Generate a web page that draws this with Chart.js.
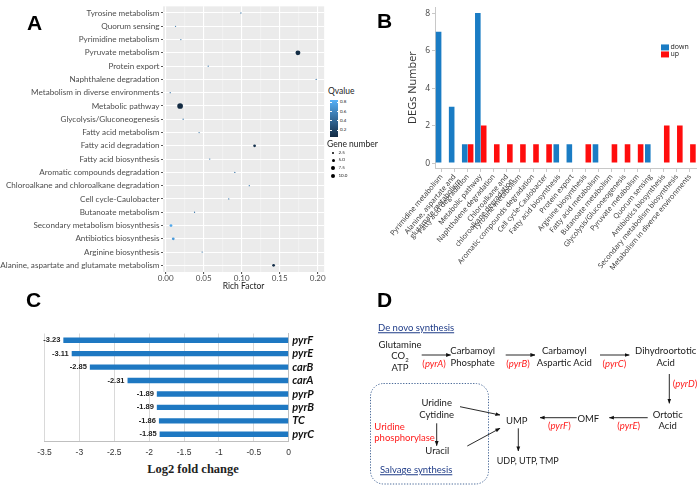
<!DOCTYPE html>
<html><head><meta charset="utf-8">
<script src="https://cdn.jsdelivr.net/npm/chart.js@4.4.0/dist/chart.umd.min.js"></script>
<style>
html,body{margin:0;padding:0;background:#fff;width:699px;height:489px;overflow:hidden;position:relative;font-family:Lato,sans-serif;}
canvas{position:absolute;}
.t{position:absolute;white-space:nowrap;transform:translate(-50%,-50%);line-height:1;color:#1a1a1a;font-size:9.5px;}
.l{position:absolute;white-space:nowrap;transform:translate(0,-50%);line-height:1;color:#1a1a1a;font-size:9.5px;}
.red{color:#FF1A1A;}
.hd{color:#1F3C88;text-decoration:underline;}
.panel{position:absolute;font-family:"Liberation Sans",Arial,sans-serif;font-weight:bold;font-size:21px;line-height:21px;color:#000;}
.leg{position:absolute;white-space:nowrap;transform:translate(0,-50%);line-height:1;color:#222;}
</style></head><body>
<canvas id="cA" width="327" height="296" style="left:0;top:0;width:327px;height:296px"></canvas>
<canvas id="cB" width="339" height="290" style="left:360px;top:0;width:339px;height:290px"></canvas>
<canvas id="cC" width="340" height="141" style="left:0;top:320px;width:340px;height:141px"></canvas>
<div id="legA"></div>
<div class="panel" style="left:27px;top:12px">A</div>
<div class="panel" style="left:377px;top:10px">B</div>
<div class="panel" style="left:26px;top:289px">C</div>
<div class="panel" style="left:377px;top:289px">D</div>

<div class="leg" style="left:661px;top:47px;font-family:'Open Sans';font-size:7px"><span style="display:inline-block;width:7.5px;height:6px;background:#1A7CC4;vertical-align:middle;margin-right:2px"></span>down</div>
<div class="leg" style="left:661px;top:54px;font-family:'Open Sans';font-size:7px"><span style="display:inline-block;width:7.5px;height:6px;background:#FF0D0D;vertical-align:middle;margin-right:2px"></span>up</div>

<div class="t" style="left:193px;top:469px;font-family:'Liberation Serif',serif;font-weight:bold;font-size:12.5px;color:#222">Log2 fold change</div>

<!-- Panel D -->
<svg width="699" height="489" style="position:absolute;left:0;top:0">
<defs><marker id="ah" markerWidth="5" markerHeight="5" refX="4.6" refY="2.5" orient="auto" markerUnits="userSpaceOnUse"><path d="M0,0.6 L5,2.5 L0,4.4 z" fill="#111"/></marker></defs>
<g stroke="#111" stroke-width="0.9" marker-end="url(#ah)">
<line x1="421.7" y1="355" x2="450.7" y2="355"/>
<line x1="505.7" y1="355" x2="535" y2="355"/>
<line x1="600" y1="355" x2="629.3" y2="355"/>
<line x1="669.3" y1="374" x2="669.3" y2="403.3"/>
<line x1="647.7" y1="417.7" x2="609.3" y2="417.7"/>
<line x1="576.7" y1="417.7" x2="540" y2="417.7"/>
<line x1="518.3" y1="428.3" x2="518.3" y2="451"/>
<line x1="460" y1="406.7" x2="500" y2="415"/>
<line x1="467.3" y1="446" x2="500" y2="428.3"/>
<line x1="436.7" y1="423.3" x2="436.7" y2="445.7"/>
</g>
<rect x="370.5" y="383.5" width="118" height="100.5" rx="13" ry="13" fill="none" stroke="#4A6A99" stroke-width="1" stroke-dasharray="1.3 1.5"/>
</svg>
<div class="l hd" style="left:378px;top:328px">De novo synthesis</div>
<div class="t" style="left:400px;top:345px">Glutamine</div>
<div class="t" style="left:400px;top:357px">CO<sub style="font-size:6px">2</sub></div>
<div class="t" style="left:400px;top:368px">ATP</div>
<div class="t red" style="left:434px;top:364px">(<i>pyrA</i>)</div>
<div class="t" style="left:472.7px;top:351.3px">Carbamoyl</div>
<div class="t" style="left:472.7px;top:362.7px">Phosphate</div>
<div class="t red" style="left:518px;top:364px">(<i>pyrB</i>)</div>
<div class="t" style="left:564.3px;top:351.3px">Carbamoyl</div>
<div class="t" style="left:564.3px;top:362.7px">Aspartic Acid</div>
<div class="t red" style="left:614.3px;top:364px">(<i>pyrC</i>)</div>
<div class="t" style="left:665.7px;top:351.3px">Dihydroortotic</div>
<div class="t" style="left:665.7px;top:362.7px">Acid</div>
<div class="t red" style="left:685px;top:384.3px">(<i>pyrD</i>)</div>
<div class="t" style="left:667.7px;top:414.7px">Ortotic</div>
<div class="t" style="left:667.7px;top:425.7px">Acid</div>
<div class="t red" style="left:628.7px;top:426px">(<i>pyrE</i>)</div>
<div class="t" style="left:588.3px;top:419px">OMF</div>
<div class="t red" style="left:559.3px;top:426px">(<i>pyrF</i>)</div>
<div class="t" style="left:516.7px;top:421px">UMP</div>
<div class="t" style="left:527.7px;top:460px;font-size:9px">UDP, UTP, TMP</div>
<div class="t" style="left:436.7px;top:402.7px">Uridine</div>
<div class="t" style="left:436.7px;top:414.7px">Cytidine</div>
<div class="l red" style="left:374.3px;top:426.7px">Uridine</div>
<div class="l red" style="left:374.3px;top:438.3px">phosphorylase</div>
<div class="t" style="left:437.3px;top:451px">Uracil</div>
<div class="l hd" style="left:380px;top:470px">Salvage synthesis</div>

<script>
// ---------- Panel A data ----------
const pathwaysA = ['Tyrosine metabolism','Quorum sensing','Pyrimidine metabolism','Pyruvate metabolism','Protein export','Naphthalene degradation','Metabolism in diverse environments','Metabolic pathway','Glycolysis/Gluconeogenesis','Fatty acid metabolism','Fatty acid degradation','Fatty acid biosynthesis','Aromatic compounds degradation','Chloroalkane and chloroalkane degradation','Cell cycle-Caulobacter','Butanoate metabolism','Secondary metabolism biosynthesis','Antibiotics biosynthesis','Arginine biosynthesis','Alanine, aspartate and glutamate metabolism'];
const richFactor = [0.099,0.013,0.020,0.174,0.056,0.198,0.006,0.019,0.023,0.044,0.117,0.058,0.091,0.110,0.083,0.038,0.007,0.010,0.048,0.142];
const geneNumber = [1,1,1,7,1,1,1,10,1,1,2,1,1,1,1,1,2,2,1,2];
const qValue = [0.5,0.5,0.5,0.06,0.5,0.5,0.5,0.05,0.5,0.5,0.1,0.5,0.5,0.5,0.5,0.5,0.8,0.72,0.5,0.08];
const richTicks = [0,0.05,0.1,0.15,0.2];
const qTicks = [0.2,0.4,0.6,0.8];
const sizeBreaks = [2.5,5,7.5,10];

// ---------- Panel B data ----------
const pathwaysB = ['Pyrimidine metabolism','Alanine, aspartate and glutamate metabolism','Fatty acid degradation','Metabolic pathway','Naphthalene degradation','Chloroalkane and chloroalkane degradation','Tyrosine metabolism','Aromatic compounds degradation','Cell cycle-Caulobacter','Fatty acid biosynthesis','Protein export','Arginine biosynthesis','Fatty acid metabolism','Butanoate metabolism','Glycolysis/Gluconeogenesis','Pyruvate metabolism','Quorum sensing','Antibiotics biosynthesis','Secondary metabolism biosynthesis','Metabolism in diverse environments'];
const downB = [7,3,1,8,0,0,0,0,0,1,1,0,1,0,0,0,1,0,0,0];
const upB   = [0,0,1,2,1,1,1,1,1,0,0,1,0,1,1,1,0,2,2,1];
const degTicks = [0,2,4,6,8];

// ---------- Panel C data ----------
const genesC = ['pyrF','pyrE','carB','carA','pyrP','pyrB','TC','pyrC'];
const log2FC = [-3.23,-3.11,-2.85,-2.31,-1.89,-1.89,-1.86,-1.85];

// ---------- helpers ----------
const Q_MIN = 0.05, Q_MAX = 0.85;
const LOW = [19,43,67], HIGH = [86,177,247];
function qColor(q){
  const t = Math.max(0, Math.min(1, (q - Q_MIN)/(Q_MAX - Q_MIN)));
  const c = LOW.map((v,i)=>Math.round(v + (HIGH[i]-v)*t));
  return `rgb(${c[0]},${c[1]},${c[2]})`;
}
const G_MIN = 1, G_MAX = 10;
function sizeR(n){ return 0.65 + 2.2*Math.sqrt(Math.max(0,(n-G_MIN)/(G_MAX-G_MIN))); }

Chart.defaults.font.family = 'Lato';

const panelBg = {
  id:'panelBg',
  beforeDraw(chart, args, opts){
    const {ctx, chartArea:a} = chart;
    ctx.save();
    ctx.fillStyle = opts.color;
    ctx.fillRect(a.left, a.top, a.right-a.left, a.bottom-a.top);
    const xs = chart.scales.x;
    ctx.strokeStyle = 'rgba(255,255,255,0.75)';
    ctx.lineWidth = 0.5;
    for (let i=0;i<richTicks.length-1;i++){
      const px = xs.getPixelForValue((richTicks[i]+richTicks[i+1])/2);
      ctx.beginPath(); ctx.moveTo(px, a.top); ctx.lineTo(px, a.bottom); ctx.stroke();
    }
    ctx.restore();
  }
};

new Chart(document.getElementById('cA'), {
  type:'bubble',
  data:{datasets:[{
    data: pathwaysA.map((p,i)=>({x:richFactor[i], y:p})),
    radius: ctx => sizeR(geneNumber[ctx.dataIndex]),
    backgroundColor: ctx => qColor(qValue[ctx.dataIndex]),
    borderWidth:0, hoverRadius:0
  }]},
  options:{
    responsive:false, animation:false, events:[],
    layout:{padding:{top:2,right:2,left:0,bottom:0}},
    plugins:{legend:{display:false}, tooltip:{enabled:false}, panelBg:{color:'#EBEBEB'}},
    scales:{
      x:{type:'linear', min:-0.0035, max:0.2085,
        afterBuildTicks: s => { s.ticks = richTicks.map(v=>({value:v})); },
        grid:{color:'#fff', lineWidth:1.1, tickColor:'#555', tickLength:2},
        border:{display:false},
        ticks:{font:{size:8}, color:'#4D4D4D', padding:0, callback: v => Number(v).toFixed(2)},
        title:{display:true, text:'Rich Factor', font:{size:8.5}, color:'#222', padding:{top:0,bottom:5}},
        afterFit: s => { s.height = 24; }
      },
      y:{type:'category', labels:pathwaysA, offset:true,
        grid:{color:'#fff', lineWidth:1.1, offset:false, tickColor:'#555', tickLength:2},
        border:{display:false},
        ticks:{font:{size:8.1}, color:'#4D4D4D', padding:1.5, autoSkip:false},
        afterFit: s => { s.width = 163; }
      }
    }
  },
  plugins:[panelBg]
});

// Panel A legend (HTML)
(function(){
  const box = document.getElementById('legA');
  let h = '';
  h += `<div class="leg" style="left:328px;top:90.7px;font-size:8.5px">Qvalue</div>`;
  const top = 100, bot = 137;
  h += `<div style="position:absolute;left:330px;top:${top}px;width:8px;height:${bot-top}px;background:linear-gradient(to bottom, ${qColor(Q_MAX)}, ${qColor(Q_MIN)})"></div>`;
  qTicks.forEach(q=>{
    const y = bot - (q-Q_MIN)/(Q_MAX-Q_MIN)*(bot-top);
    h += `<div style="position:absolute;left:330px;top:${y-0.4}px;width:1.5px;height:0.8px;background:#fff"></div>`;
    h += `<div style="position:absolute;left:336.5px;top:${y-0.4}px;width:1.5px;height:0.8px;background:#fff"></div>`;
    h += `<div class="leg" style="left:340px;top:${y}px;font-size:4.5px">${q.toFixed(1)}</div>`;
  });
  h += `<div class="leg" style="left:327px;top:144px;font-size:8.5px">Gene number</div>`;
  const ys = [153.3,160.3,167.7,176.3];
  sizeBreaks.forEach((g,i)=>{
    const r = sizeR(g)*0.75;
    h += `<div style="position:absolute;left:${333.3-r}px;top:${ys[i]-r}px;width:${2*r}px;height:${2*r}px;border-radius:50%;background:#000"></div>`;
    h += `<div class="leg" style="left:338.5px;top:${ys[i]}px;font-size:4.5px">${g.toFixed(1)}</div>`;
  });
  box.innerHTML = h;
})();

// Panel B
function wrapLabel(s){
  const k = s.indexOf(' and ');
  if (s.length > 30 && k > 0) return [s.slice(0,k+4), s.slice(k+5)];
  return s;
}
const rotLabels = {
  id:'rotLabels',
  afterDraw(chart, args, opts){
    const {ctx, chartArea:a} = chart, xs = chart.scales.x;
    ctx.save();
    ctx.font = `${opts.size}px "Open Sans"`;
    ctx.fillStyle = opts.color;
    ctx.textAlign = 'right'; ctx.textBaseline = 'middle';
    const lh = opts.size*0.95;
    chart.data.labels.forEach((lab,i)=>{
      const lines = Array.isArray(lab) ? lab : [lab];
      ctx.save();
      ctx.translate(xs.getPixelForTick(i), a.bottom + opts.offset);
      ctx.rotate(-opts.angle*Math.PI/180);
      lines.forEach((ln,j)=>ctx.fillText(ln, 0, j*lh));
      ctx.restore();
    });
    ctx.restore();
  }
};
new Chart(document.getElementById('cB'), {
  type:'bar',
  data:{labels: pathwaysB.map(wrapLabel), datasets:[
    {label:'down', data:downB, backgroundColor:'#1A7CC4', borderWidth:0},
    {label:'up', data:upB, backgroundColor:'#FF0D0D', borderWidth:0}
  ]},
  options:{
    responsive:false, animation:false, events:[],
    layout:{padding:{top:5,right:2.5,left:0,bottom:0}},
    datasets:{bar:{barPercentage:0.95, categoryPercentage:0.9}},
    plugins:{legend:{display:false}, tooltip:{enabled:false}, rotLabels:{size:7.2, color:'#333', angle:50, offset:7.5}},
    scales:{
      x:{grid:{offset:false, drawOnChartArea:false, tickLength:4, color:'#C8C8C8'},
        border:{color:'#C8C8C8'},
        ticks:{display:false},
        afterFit: s => { s.height = 122; }
      },
      y:{min:-0.26, max:8.32,
        afterBuildTicks: s => { s.ticks = degTicks.map(v=>({value:v})); },
        grid:{drawOnChartArea:false, tickLength:3, color:'#C8C8C8'},
        border:{color:'#C8C8C8'},
        ticks:{font:{family:'Open Sans', size:8.5}, color:'#444', padding:2},
        title:{display:true, text:'DEGs Number', font:{family:'Open Sans', size:11}, color:'#333', padding:{top:46.4,bottom:0}},
        afterFit: s => { s.width = 75; }
      }
    }
  },
  plugins:[rotLabels]
});

// Panel C
const valueLabels = {
  id:'valueLabels',
  afterDatasetsDraw(chart){
    const ctx = chart.ctx, meta = chart.getDatasetMeta(0), d = chart.data.datasets[0].data;
    ctx.save();
    ctx.font = 'bold 7.5px "Liberation Sans"';
    ctx.fillStyle = '#222'; ctx.textAlign = 'right'; ctx.textBaseline = 'middle';
    meta.data.forEach((el,i)=>{ ctx.fillText(d[i].toFixed(2), el.x - 3, el.y); });
    ctx.restore();
  }
};
new Chart(document.getElementById('cC'), {
  type:'bar',
  data:{labels:genesC, datasets:[{data:log2FC, backgroundColor:'#1E78C2', borderWidth:0}]},
  options:{
    indexAxis:'y', responsive:false, animation:false, events:[],
    layout:{padding:{top:13.5,left:44.5,right:0,bottom:0}},
    datasets:{bar:{barPercentage:0.4, categoryPercentage:1}},
    plugins:{legend:{display:false}, tooltip:{enabled:false}},
    scales:{
      x:{min:-3.5, max:0,
        ticks:{stepSize:0.5, font:{family:'Liberation Sans', size:8.5}, color:'#333', padding:7, callback: v => String(Number(v))},
        grid:{color:'#D9D9D9', drawTicks:false},
        border:{color:'#BFBFBF'},
        afterFit: s => { s.height = 20; }
      },
      y:{position:'right', grid:{display:false, drawTicks:false}, border:{color:'#BFBFBF'},
        ticks:{font:{size:11, style:'italic', weight:'bold'}, color:'#111', padding:3.5, autoSkip:false},
        afterFit: s => { s.width = 51.3; }
      }
    }
  },
  plugins:[valueLabels]
});
</script>
</body></html>
